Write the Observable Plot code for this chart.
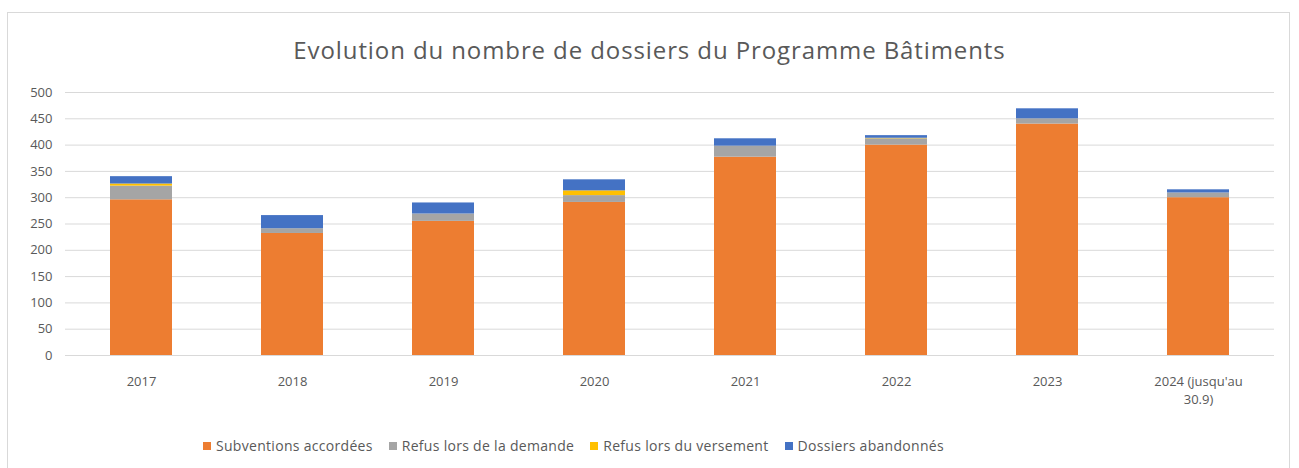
<!DOCTYPE html>
<html>
<head>
<meta charset="utf-8">
<script src="https://cdn.jsdelivr.net/npm/d3@7"></script>
<script src="https://cdn.jsdelivr.net/npm/@observablehq/plot@0.6"></script>
<style>
  html, body { margin: 0; padding: 0; background: #fff; }
  body { width: 1299px; height: 468px; position: relative; overflow: hidden; font-family: "Open Sans", "Liberation Sans", sans-serif; }
  #frame { position: absolute; left: 7px; top: 12px; width: 1283px; height: 470px; border: 1px solid #d9d9d9; box-sizing: border-box; }
  #title { position: absolute; left: 0; top: 35px; width: 1299px; text-align: center; font-size: 24px; letter-spacing: 0.9px; color: #595959; line-height: 30px; }
  #chart { position: absolute; left: 0; top: 80px; }
  #legend { position: absolute; left: 195px; top: 437px; display: flex; justify-content: flex-start; font-size: 14px; letter-spacing: 0.3px; color: #595959; line-height: 18px; white-space: nowrap; }
  .item { display: flex; align-items: center; margin: 0 8px; }
  .sw { width: 8px; height: 8px; margin-right: 5px; }
</style>
</head>
<body>
<div id="frame"></div>
<div id="title">Evolution du nombre de dossiers du Programme Bâtiments</div>
<div id="chart"></div>
<div id="legend"></div>
<script>
const years = ["2017", "2018", "2019", "2020", "2021", "2022", "2023", "2024 (jusqu'au\n30.9)"];
const seriesNames = ["Subventions accordées", "Refus lors de la demande", "Refus lors du versement", "Dossiers abandonnés"];
const seriesColors = ["#ED7D31", "#A5A5A5", "#FFC000", "#4472C4"];
const subventions = [296, 232, 255, 291, 377, 400, 440, 300];
const refusDemande = [26, 9, 14, 13, 21, 12, 10, 9];
const refusVersement = [4, 0, 0, 9, 0, 1, 0, 0];
const abandonnes = [14, 25, 21, 21, 14, 5, 19, 6];
const yTicks = [0, 50, 100, 150, 200, 250, 300, 350, 400, 450, 500];

const seriesValues = [subventions, refusDemande, refusVersement, abandonnes];
const data = [];
seriesNames.forEach((s, i) => {
  years.forEach((y, j) => data.push({year: y, series: s, value: seriesValues[i][j]}));
});

const chart = Plot.plot({
  width: 1299,
  height: 340,
  marginTop: 12,
  marginBottom: 65,
  marginLeft: 65,
  marginRight: 25,
  style: {fontFamily: "'Open Sans', 'Liberation Sans', sans-serif", fontSize: "13px", color: "#595959", background: "transparent"},
  x: {domain: years, paddingInner: 0.59, paddingOuter: 0.295, label: null},
  y: {domain: [0, 500], label: null},
  color: {domain: seriesNames, range: seriesColors},
  marks: [
    Plot.gridY(yTicks, {stroke: "#d9d9d9", strokeOpacity: 1}),
    Plot.barY(data, Plot.stackY({order: seriesNames}, {x: "year", y: "value", fill: "series"})),
    Plot.axisY(yTicks, {tickSize: 0, tickPadding: 13, fill: "#595959", label: null}),
    Plot.axisX({tickSize: 0, tickPadding: 18, fill: "#595959", label: null, lineHeight: 1.35})
  ]
});
document.getElementById("chart").appendChild(chart);

const legend = document.getElementById("legend");
seriesNames.forEach((s, i) => {
  const it = document.createElement("div");
  it.className = "item";
  const sw = document.createElement("span");
  sw.className = "sw";
  sw.style.background = seriesColors[i];
  it.appendChild(sw);
  it.appendChild(document.createTextNode(s));
  legend.appendChild(it);
});
</script>
</body>
</html>
